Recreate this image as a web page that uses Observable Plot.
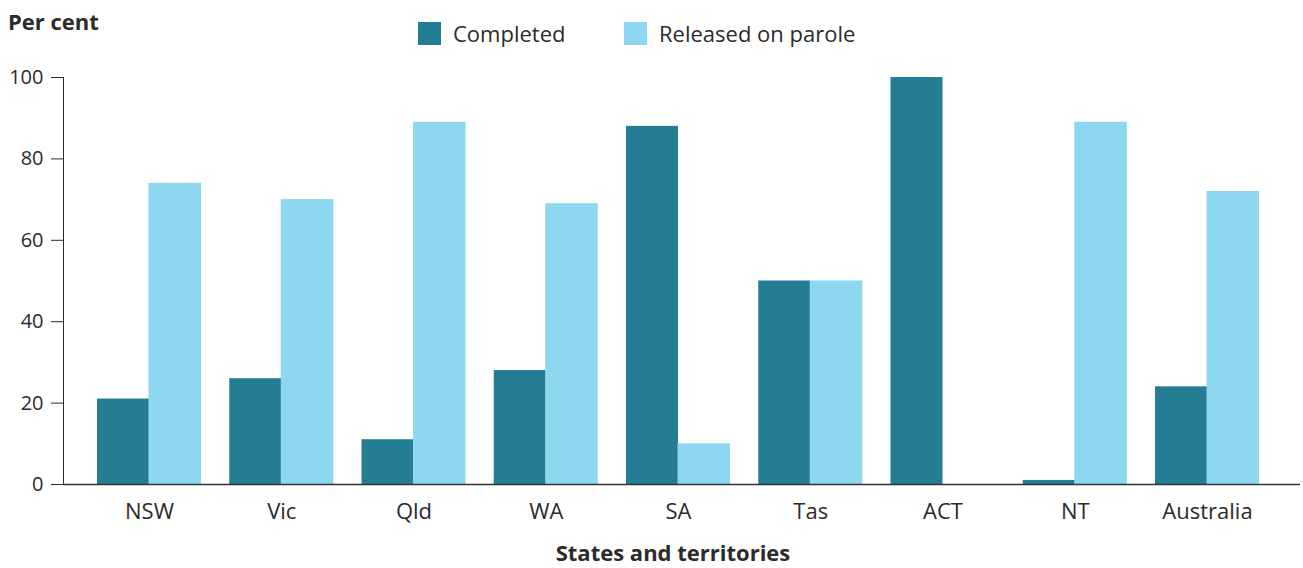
<!DOCTYPE html>
<html>
<head>
<meta charset="utf-8">
<script src="https://cdn.jsdelivr.net/npm/d3@7"></script>
<script src="https://cdn.jsdelivr.net/npm/@observablehq/plot@0.6"></script>
<style>
  body { margin: 0; background: #fff; font-family: "Open Sans", sans-serif; color: #2b2b2b; }
  #wrap { position: relative; width: 1303px; height: 568px; }
  #ytitle { position: absolute; left: 8px; top: 6px; font-weight: bold; font-size: 22px; }
  .leg { position: absolute; top: 18px; display: flex; align-items: center; font-size: 22px; }
  .sw { width: 23px; height: 23px; margin-right: 12px; }
  #chart { position: absolute; left: 0; top: 60px; }
  #xtitle { position: absolute; left: 673px; top: 541px; transform: translateX(-50%); font-weight: bold; font-size: 22px; white-space: nowrap; line-height: 22px; }
  #chart svg [aria-label="y-axis tick label"] text { font-size: 20px; }
</style>
</head>
<body>
<div id="wrap">
  <div id="ytitle">Per cent</div>
  <div class="leg" style="left:418px"><div class="sw" style="background:#257D94"></div>Completed</div>
  <div class="leg" style="left:624px"><div class="sw" style="background:#8ED7F0"></div>Released on parole</div>
  <div id="chart"></div>
  <div id="xtitle">States and territories</div>
</div>
<script>
const states = ["NSW", "Vic", "Qld", "WA", "SA", "Tas", "ACT", "NT", "Australia"];
const completed = [21, 26, 11, 28, 88, 50, 100, 1, 24];
const parole = [74, 70, 89, 69, 10, 50, 0, 89, 72];
const yTicks = [0, 20, 40, 60, 80, 100];
const series = ["Completed", "Released on parole"];
const colors = ["#257D94", "#8ED7F0"];

const compData = states.map((s, i) => ({state: s, value: completed[i]}));
const parData = states.map((s, i) => ({state: s, value: parole[i]}));

const chart = Plot.plot({
  width: 1303,
  height: 476,
  marginLeft: 63,
  marginRight: 3,
  marginTop: 17,
  marginBottom: 52,
  style: {fontFamily: "Open Sans", fontSize: "22px", color: "#2b2b2b", background: "#fff"},
  x: {domain: states, range: [97, 1259], paddingInner: 0.2136, paddingOuter: 0, round: false,
      tickSize: 0, tickPadding: 19, label: null},
  y: {domain: [0, 100], ticks: yTicks, tickSize: 12, tickPadding: 8, line: true, label: null},
  marks: [
    Plot.barY(compData, {x: "state", y: "value", fill: colors[0], insetRight: 52}),
    Plot.barY(parData, {x: "state", y: "value", fill: colors[1], insetLeft: 51.5}),
    Plot.ruleY([0], {stroke: "#333", strokeWidth: 1.5})
  ]
});
document.getElementById("chart").appendChild(chart);
</script>
</body>
</html>
